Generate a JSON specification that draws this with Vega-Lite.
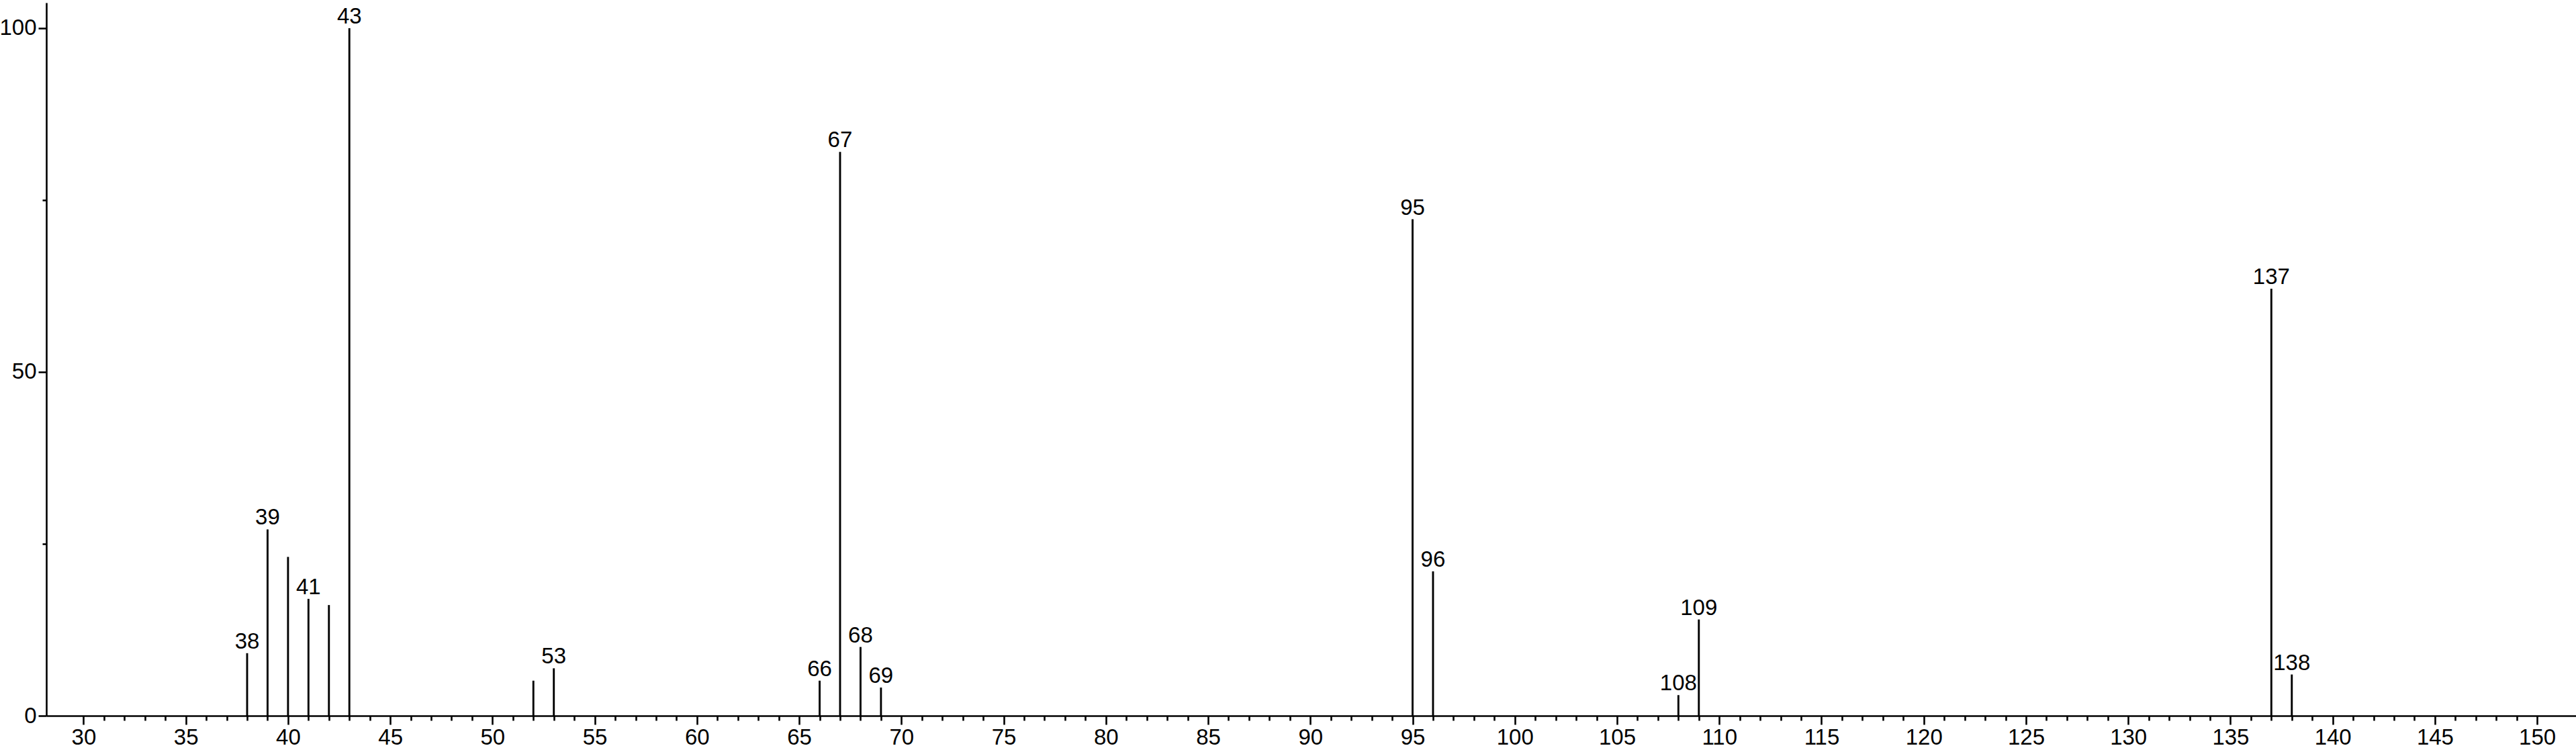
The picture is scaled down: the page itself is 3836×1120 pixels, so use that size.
{
  "$schema": "https://vega.github.io/schema/vega-lite/v6.json",
  "width": 3767,
  "height": 1062,
  "autosize": {"type": "none"},
  "padding": {"left": 69, "top": 4, "right": 0, "bottom": 54},
  "background": "white",
  "config": {
    "view": {"stroke": null},
    "font": "Liberation Sans",
    "axis": {
      "grid": false,
      "title": null,
      "domainColor": "black",
      "domainWidth": 2.6,
      "tickColor": "black",
      "tickWidth": 2.6,
      "labelColor": "black",
      "labelFont": "Liberation Sans",
      "labelFontSize": 33,
      "labelOverlap": false,
      "labelFlush": false
    }
  },
  "data": {
    "values": [
      {"mz": 38, "intensity": 9.1, "label": "38"},
      {"mz": 39, "intensity": 27.1, "label": "39"},
      {"mz": 40, "intensity": 23.1, "label": ""},
      {"mz": 41, "intensity": 17.0, "label": "41"},
      {"mz": 42, "intensity": 16.1, "label": ""},
      {"mz": 43, "intensity": 100, "label": "43"},
      {"mz": 52, "intensity": 5.1, "label": ""},
      {"mz": 53, "intensity": 6.9, "label": "53"},
      {"mz": 66, "intensity": 5.1, "label": "66"},
      {"mz": 67, "intensity": 82.0, "label": "67"},
      {"mz": 68, "intensity": 10.0, "label": "68"},
      {"mz": 69, "intensity": 4.1, "label": "69"},
      {"mz": 95, "intensity": 72.2, "label": "95"},
      {"mz": 96, "intensity": 21.0, "label": "96"},
      {"mz": 108, "intensity": 3.0, "label": "108"},
      {"mz": 109, "intensity": 14.0, "label": "109"},
      {"mz": 137, "intensity": 62.1, "label": "137"},
      {"mz": 138, "intensity": 6.0, "label": "138"}
    ]
  },
  "encoding": {
    "x": {
      "field": "mz",
      "type": "quantitative",
      "scale": {"domain": [28.18, 151.9], "nice": false, "zero": false},
      "axis": {
        "values": [30,31,32,33,34,35,36,37,38,39,40,41,42,43,44,45,46,47,48,49,50,51,52,53,54,55,56,57,58,59,60,61,62,63,64,65,66,67,68,69,70,71,72,73,74,75,76,77,78,79,80,81,82,83,84,85,86,87,88,89,90,91,92,93,94,95,96,97,98,99,100,101,102,103,104,105,106,107,108,109,110,111,112,113,114,115,116,117,118,119,120,121,122,123,124,125,126,127,128,129,130,131,132,133,134,135,136,137,138,139,140,141,142,143,144,145,146,147,148,149,150],
        "labelExpr": "datum.value % 5 === 0 ? datum.label : ''",
        "tickSize": {"condition": {"test": "datum.value % 5 === 0", "value": 13}, "value": 7},
        "labelPadding": 3
      }
    }
  },
  "layer": [
    {
      "mark": {"type": "rule", "color": "black", "strokeWidth": 2.9},
      "encoding": {
        "y": {
          "field": "intensity",
          "type": "quantitative",
          "scale": {"domain": [0, 103.7], "nice": false},
          "axis": {
            "values": [0, 25, 50, 75, 100],
            "labelExpr": "datum.value % 50 === 0 ? datum.label : ''",
            "tickSize": {"condition": {"test": "datum.value % 50 === 0", "value": 12}, "value": 6},
            "labelPadding": 3
          }
        },
        "y2": {"datum": 0}
      }
    },
    {
      "mark": {"type": "text", "baseline": "alphabetic", "dy": -7, "fontSize": 33, "font": "Liberation Sans", "color": "black"},
      "encoding": {
        "y": {"field": "intensity", "type": "quantitative"},
        "text": {"field": "label"}
      }
    }
  ]
}
